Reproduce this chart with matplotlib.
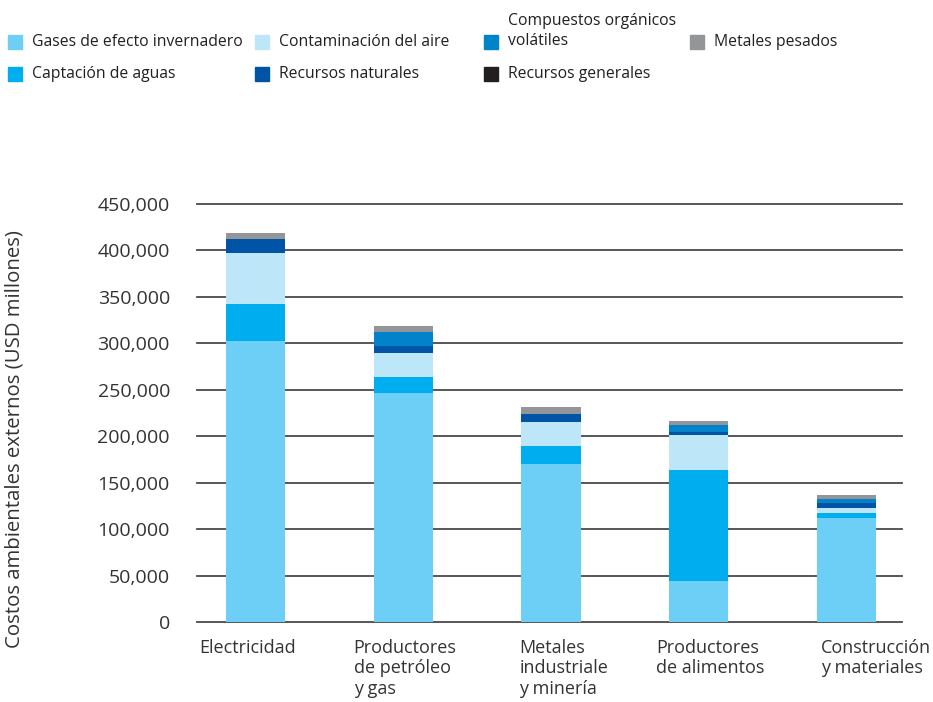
import matplotlib
matplotlib.use('Agg')
import matplotlib.pyplot as plt
from matplotlib.patches import Rectangle
from matplotlib.ticker import FuncFormatter
import matplotlib.transforms as mtransforms
import numpy as np

# Datos (USD millones)
sectores = ['Electricidad', 'Productores\nde petróleo\ny gas', 'Metales\nindustriale\ny minería',
            'Productores\nde alimentos', 'Construcción\ny materiales']
gases = [303000, 246000, 170000, 44000, 112000]
captacion = [39000, 18000, 19500, 120000, 5400]
contaminacion = [55000, 26000, 26000, 37700, 5400]
rec_naturales = [15000, 7500, 8600, 3200, 5400]
cov = [0, 15000, 0, 7600, 4300]
rec_generales = [0, 0, 0, 0, 0]
metales = [7000, 6500, 7500, 4300, 4300]

series = ['Gases de efecto invernadero', 'Captación de aguas', 'Contaminación del aire',
          'Recursos naturales', 'Compuestos orgánicos\nvolátiles', 'Recursos generales',
          'Metales pesados']
valores = [gases, captacion, contaminacion, rec_naturales, cov, rec_generales, metales]
colores = ['#6dcff6', '#00aeef', '#bde6f9', '#0054a6', '#0083ca', '#231f20', '#939598']

plt.rcParams['font.family'] = ['Open Sans', 'DejaVu Sans']
txt_color = '#333333'

W, H = 933, 702
fig = plt.figure(figsize=(W / 100, H / 100), dpi=100)
ax = fig.add_axes([197 / W, 1 - 622 / H, 705 / W, 418 / H])

x = np.arange(len(sectores))
base = np.zeros(len(sectores))
for vals, col in zip(valores, colores):
    ax.bar(x, vals, bottom=base, width=0.4, color=col, zorder=3)
    base += np.array(vals)

ax.set_xlim(-0.395, 4.375)
ax.set_ylim(0, 450000)
ax.set_yticks(np.arange(0, 450001, 50000))
ax.yaxis.set_major_formatter(FuncFormatter(lambda v, p: f'{int(v):,}'))
ax.tick_params(axis='y', length=0, pad=19.5, labelsize=14, labelcolor=txt_color)
ax.set_xticks([])
for s in ax.spines.values():
    s.set_visible(False)
ax.yaxis.grid(True, color='#4a4a4a', linewidth=1.3, zorder=0)
ax.set_axisbelow(True)
for gl in ax.get_ygridlines():
    gl.set_clip_on(False)

# etiquetas de categorías, alineadas a la izquierda
desplaz = [-0.38, -0.335, -0.213, -0.287, -0.172]
trans = mtransforms.blended_transform_factory(ax.transData, ax.transAxes)
for i, (lab, d) in enumerate(zip(sectores, desplaz)):
    ax.text(i + d, -0.04, lab, transform=trans, ha='left', va='top', fontsize=13,
            color=txt_color, linespacing=1.18, clip_on=False)

fig.text(15 / W, 1 - 439 / H, 'Costos ambientales externos (USD millones)', rotation=90,
         ha='center', va='center', fontsize=14.7, color=txt_color)

# leyenda manual
leg_x = [8, 8, 255, 255, 484, 484, 690]
leg_y = [42, 74, 42, 74, 42, 74, 42]
sq = 14
for lab, col, lx, ly in zip(series, colores, leg_x, leg_y):
    fig.add_artist(Rectangle((lx / W, 1 - (ly + sq / 2) / H), sq / W, sq / H,
                             transform=fig.transFigure, color=col))
    ty = ly - 11 if '\n' in lab else ly
    fig.text((lx + 24) / W, 1 - ty / H, lab, ha='left', va='center', fontsize=11.3,
             color='#231f20', linespacing=1.3)

fig.savefig('out.png', dpi=100)
